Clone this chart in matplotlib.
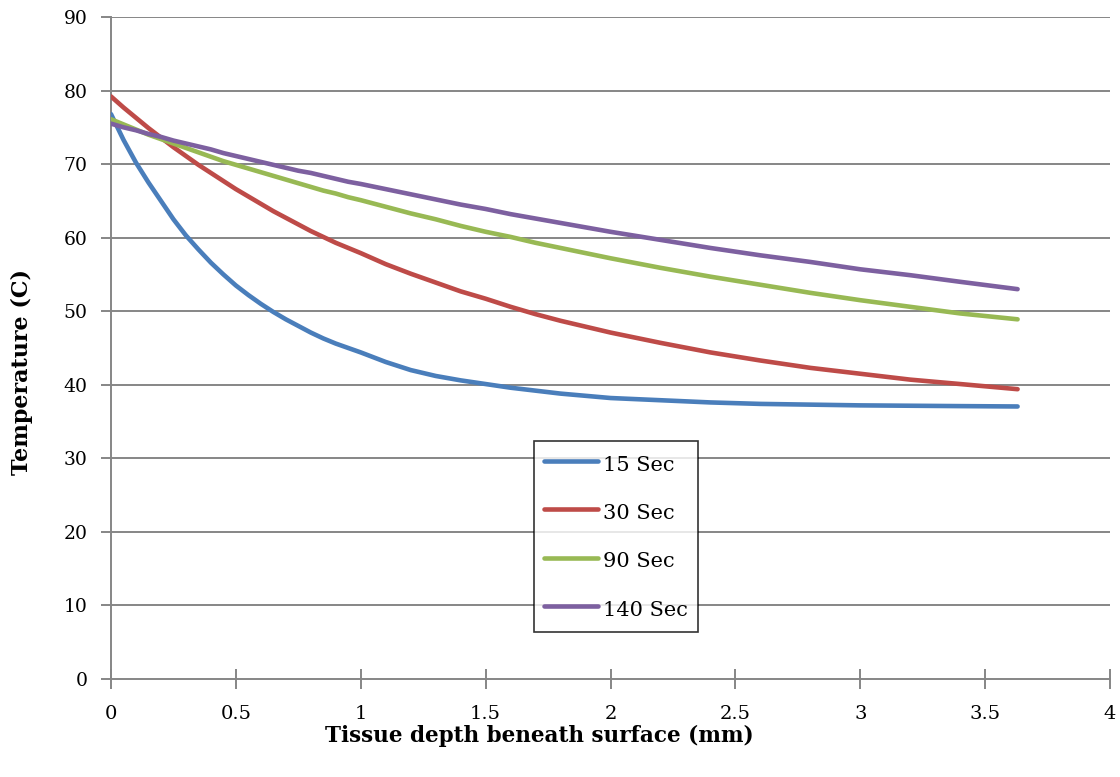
import matplotlib
matplotlib.use("Agg")
import matplotlib.pyplot as plt

depth = [0.0, 0.05, 0.1, 0.15, 0.2, 0.25, 0.3, 0.35, 0.4, 0.45, 0.5, 0.55, 0.6, 0.65, 0.7, 0.75,
         0.8, 0.85, 0.9, 0.95, 1.0, 1.1, 1.2, 1.3, 1.4, 1.5,
         1.6, 1.7, 1.8, 1.9, 2.0, 2.2, 2.4, 2.6, 2.8, 3.0, 3.2, 3.4, 3.63]

t15 = [76.8, 73.3, 70.2, 67.5, 65.0, 62.5, 60.3, 58.4, 56.6, 55.0, 53.5, 52.2, 51.0, 49.9, 48.9, 48.0,
       47.1, 46.3, 45.6, 45.0, 44.4, 43.1, 42.0, 41.2, 40.6, 40.1,
       39.6, 39.2, 38.8, 38.5, 38.2, 37.9, 37.6, 37.4, 37.3, 37.2, 37.15, 37.1, 37.05]
t30 = [79.2, 77.7, 76.3, 74.9, 73.6, 72.3, 71.1, 69.9, 68.8, 67.7, 66.6, 65.6, 64.6, 63.6, 62.7, 61.8,
       60.9, 60.1, 59.3, 58.6, 57.9, 56.4, 55.1, 53.9, 52.7, 51.7,
       50.6, 49.6, 48.7, 47.9, 47.1, 45.7, 44.4, 43.3, 42.3, 41.5, 40.7, 40.1, 39.4]
t90 = [76.1, 75.4, 74.7, 74.0, 73.4, 72.8, 72.2, 71.6, 71.0, 70.4, 69.9, 69.4, 68.9, 68.4, 67.9, 67.4,
       66.9, 66.4, 66.0, 65.5, 65.1, 64.2, 63.3, 62.5, 61.6, 60.8,
       60.1, 59.3, 58.6, 57.9, 57.2, 55.9, 54.7, 53.6, 52.5, 51.5, 50.6, 49.7, 48.9]
t140 = [75.5, 75.0, 74.6, 74.1, 73.7, 73.2, 72.8, 72.4, 72.0, 71.5, 71.1, 70.7, 70.3, 69.9, 69.5, 69.1,
        68.8, 68.4, 68.0, 67.6, 67.3, 66.6, 65.9, 65.2, 64.5, 63.9,
        63.2, 62.6, 62.0, 61.4, 60.8, 59.7, 58.6, 57.6, 56.7, 55.7, 54.9, 54.0, 53.0]

series = [("15 Sec", t15, "#4A7EBB"), ("30 Sec", t30, "#BE4B48"),
          ("90 Sec", t90, "#98B954"), ("140 Sec", t140, "#7D60A0")]

xticks = [0, 0.5, 1, 1.5, 2, 2.5, 3, 3.5, 4]
xticklabels = ["0", "0.5", "1", "1.5", "2", "2.5", "3", "3.5", "4"]
yticks = list(range(0, 91, 10))

plt.rcParams['font.family'] = ['DejaVu Serif']

fig = plt.figure(figsize=(11.2, 7.77), dpi=100)
ax = fig.add_axes([111/1120, 1-679/777, 999/1120, 662/777])

grid_c = "#868686"
for y in yticks[1:]:
    ax.axhline(y, color=grid_c, lw=1.4, zorder=1)

for name, vals, col in series:
    ax.plot(depth, vals, color=col, lw=3.3, label=name, solid_capstyle='round',
            solid_joinstyle='round', zorder=3)

ax.set_xlim(0, 4)
ax.set_ylim(0, 90)
ax.set_xticks(xticks)
ax.set_xticklabels(xticklabels)
ax.set_yticks(yticks)

for s in ["top", "right"]:
    ax.spines[s].set_visible(False)
for s in ["left", "bottom"]:
    ax.spines[s].set_color(grid_c)
    ax.spines[s].set_linewidth(1.4)

ax.tick_params(axis='x', direction='inout', length=14, width=1.4, color=grid_c,
               labelsize=14, pad=12)
ax.tick_params(axis='y', direction='out', length=7, width=1.4, color=grid_c,
               labelsize=13.5, pad=10)

leg = ax.legend(loc='lower left', bbox_to_anchor=(0.4234, 0.071), frameon=True,
                fancybox=False, edgecolor='black', fontsize=15, handlelength=2.55,
                handleheight=1.5, labelspacing=1.1, borderpad=0.5, handletextpad=0.25,
                borderaxespad=0)
leg.get_frame().set_linewidth(1.2)
leg.set_zorder(5)

fig.text(539/1120, 1-736/777, "Tissue depth beneath surface (mm)", ha='center', va='center',
         fontsize=15.5, fontweight='bold')
fig.text(22/1120, 1-372/777, "Temperature (C)", ha='center', va='center', rotation=90,
         fontsize=16, fontweight='bold')

fig.savefig("out.png", dpi=100, facecolor='white')
